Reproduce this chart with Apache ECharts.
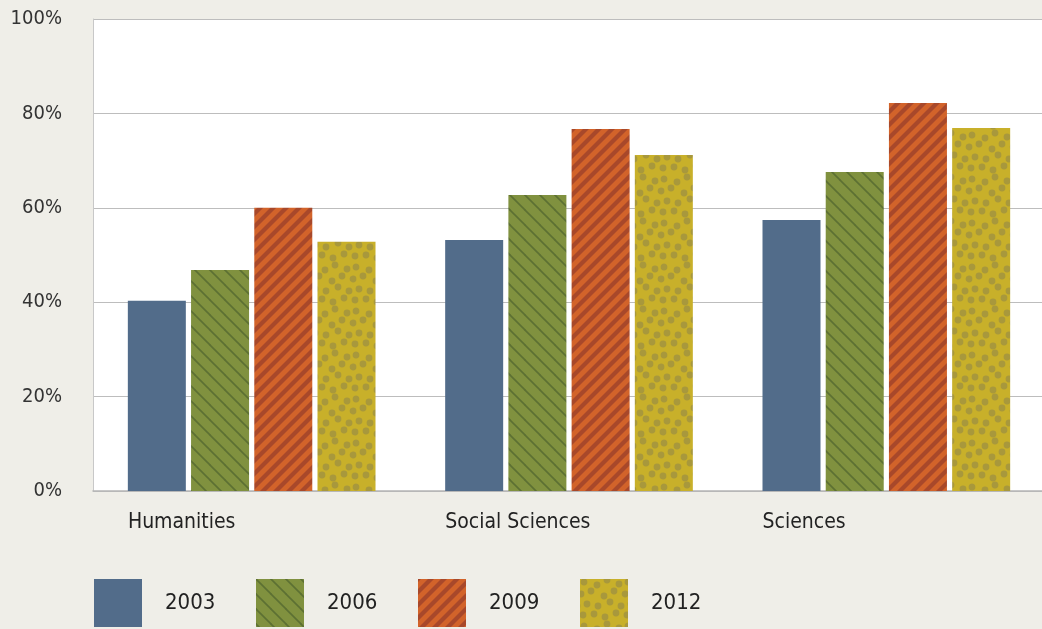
<!DOCTYPE html>
<html><head><meta charset="utf-8">
<script src="https://cdn.jsdelivr.net/npm/echarts@6/dist/echarts.min.js"></script>
<style>html,body{margin:0;padding:0;background:#efeee8;}#c{width:1042px;height:629px;}</style>
</head><body><div id="c"></div>
<script>
const categories = ['Humanities', 'Social Sciences', 'Sciences'];
const years = ['2003', '2006', '2009', '2012'];
const v2003 = [40.3, 53.2, 57.4];
const v2006 = [46.8, 62.7, 67.6];
const v2009 = [60.0, 76.7, 82.2];
const v2012 = [52.8, 71.2, 76.9];
const yTicks = [0, 20, 40, 60, 80, 100];

function tile(w, h, draw) {
  const c = document.createElement('canvas');
  c.width = w; c.height = h;
  const g = c.getContext('2d');
  draw(g, w, h);
  return { image: c, repeat: 'repeat' };
}
const solidBlue = '#526c8a';
const greenPat = tile(15, 15, (g, w, h) => {
  g.fillStyle = '#80913f'; g.fillRect(0, 0, w, h);
  g.strokeStyle = '#5c7033'; g.lineWidth = 1.6;
  [[0, 0, 15, 15], [-15, 0, 0, 15], [0, -15, 15, 0], [-2, 13, 2, 17], [13, -2, 17, 2]].forEach(l => {
    g.beginPath(); g.moveTo(l[0], l[1]); g.lineTo(l[2], l[3]); g.stroke();
  });
});
const P = 13;
const orangePat = tile(P, P, (g, w, h) => {
  g.fillStyle = '#d2632a'; g.fillRect(0, 0, w, h);
  g.strokeStyle = '#a8482a'; g.lineWidth = 4.2;
  [[0, P, P, 0], [-P, P, P, -P], [0, 2 * P, 2 * P, 0]].forEach(l => {
    g.beginPath(); g.moveTo(l[0], l[1]); g.lineTo(l[2], l[3]); g.stroke();
  });
});
const T = 44;
const dotPts = [[4,3],[17,6],[27,1],[39,5],[1,15],[11,12],[24,17],[34,12],[7,25],[18,27],[30,23],[41,27],[3,36],[14,35],[25,38],[36,34]];
const yellowPat = tile(T, T, (g, w, h) => {
  g.fillStyle = '#c8b02a'; g.fillRect(0, 0, w, h);
  g.fillStyle = '#a8983c';
  dotPts.forEach(p => {
    for (let dx = -T; dx <= T; dx += T) for (let dy = -T; dy <= T; dy += T) {
      g.beginPath(); g.arc(p[0] + dx, p[1] + dy, 3.4, 0, Math.PI * 2); g.fill();
    }
  });
});

const FONT = "'Liberation Sans Narrow', 'DejaVu Sans Condensed', sans-serif";
const chart = echarts.init(document.getElementById('c'), null, { renderer: 'canvas' });
const vals = [v2003, v2006, v2009, v2012];
const fills = [solidBlue, greenPat, orangePat, yellowPat];
const legendLeft = [89, 251, 413, 575];

chart.setOption({
  backgroundColor: '#efeee8',
  animation: false,
  grid: [
    { left: 93, top: 19, width: 952, height: 472, show: true, backgroundColor: '#ffffff', borderWidth: 0, outerBoundsMode: 'none' },
    { left: -30.75, top: 19, width: 952, height: 472, show: false, outerBoundsMode: 'none' }
  ],
  legend: years.map((y, i) => ({
    data: [y], left: legendLeft[i], top: 574, itemWidth: 48, itemHeight: 48, icon: 'rect',
    textStyle: { fontFamily: FONT, fontSize: 22, color: '#222', padding: [0, 0, 0, 18] }
  })),
  xAxis: [
    { type: 'category', data: categories, gridIndex: 0,
      axisLine: { lineStyle: { color: '#b5b5b5', width: 1.5 } }, axisTick: { show: false }, axisLabel: { show: false } },
    { type: 'category', data: categories, gridIndex: 1,
      axisLine: { show: false }, axisTick: { show: false },
      axisLabel: { align: 'left', margin: 21, fontFamily: FONT, fontSize: 21, color: '#222' } }
  ],
  yAxis: [
    { type: 'value', gridIndex: 0, min: yTicks[0], max: yTicks[yTicks.length - 1], interval: 20,
      axisLine: { show: true, lineStyle: { color: '#c8c8c8' } }, axisTick: { show: false },
      splitLine: { lineStyle: { color: '#bdbdbd', width: 1 } },
      axisLabel: { formatter: '{value}%', margin: 31, fontFamily: FONT, fontSize: 20, color: '#333', padding: [4, 0, 0, 0] } },
    { type: 'value', gridIndex: 1, min: 0, max: 100, show: false }
  ],
  series: years.map((y, i) => ({
    name: y, type: 'bar', xAxisIndex: 0, yAxisIndex: 0, data: vals[i],
    barWidth: 58, barGap: '9%', itemStyle: { color: fills[i] }
  }))
});
</script></body></html>
